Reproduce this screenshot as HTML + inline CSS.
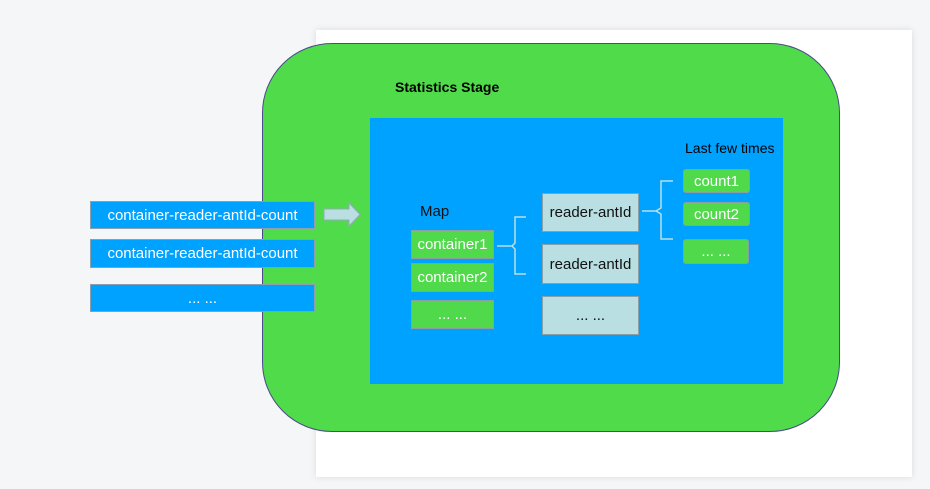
<!DOCTYPE html>
<html><head><style>
body{margin:0;width:930px;height:489px;background:#f5f6f8;position:relative;overflow:hidden;font-family:"Liberation Sans",sans-serif}
.a{position:absolute;box-sizing:border-box;display:flex;align-items:center;justify-content:center}
.lb{background:#00a2ff;border:1px solid #8aa0b0;color:#fff;font-size:15px}
.g{background:#50d94a;border:1px solid #8aa0a0;color:#fff;font-size:15px}
.r{background:#b9dfe3;border:1px solid #8aa0a8;color:#111;font-size:15px}
</style></head><body>
<div class="a" style="left:316px;top:30px;width:596px;height:447px;background:#fff;box-shadow:0 0 6px #d8dadd"></div>
<div class="a" style="left:262px;top:43px;width:578px;height:389px;background:#50db4a;border:1px solid #4a4a8a;border-radius:70px"></div>
<div class="a" style="left:395px;top:79px;font-weight:bold;font-size:14px;color:#000">Statistics Stage</div>
<div class="a" style="left:370px;top:118px;width:413px;height:266px;background:#00a2ff"></div>
<div class="a" style="left:685px;top:140px;font-size:14px;color:#000">Last few times</div>
<div class="a lb" style="left:90px;top:201px;width:225px;height:28px">container-reader-antId-count</div>
<div class="a lb" style="left:90px;top:239px;width:225px;height:29px">container-reader-antId-count</div>
<div class="a lb" style="left:90px;top:284px;width:225px;height:28px">... ...</div>
<svg style="position:absolute;left:0;top:0" width="930" height="489">
<polygon points="324,209 349,209 349,203 360,214.5 349,226 349,220 324,220" fill="#b9dfe3" stroke="#9ab" stroke-width="1"/>
<path d="M497,246 H512 M526,217 H515 V243 L512,246 L515,249 V274 H526" stroke="#b9dfe3" fill="none" stroke-width="1.5"/>
<path d="M642,211 H656 M673,181 H661 V208 L656,211 L661,214 V239 H673" stroke="#b9dfe3" fill="none" stroke-width="1.5"/>
</svg>
<div class="a" style="left:420px;top:203px;font-size:15px;color:#111">Map</div>
<div class="a g" style="left:411px;top:230px;width:83px;height:29px">container1</div>
<div class="a g" style="left:411px;top:263px;width:83px;height:29px">container2</div>
<div class="a g" style="left:411px;top:300px;width:83px;height:29px">... ...</div>
<div class="a r" style="left:542px;top:193px;width:97px;height:39px">reader-antId</div>
<div class="a r" style="left:542px;top:244px;width:97px;height:40px">reader-antId</div>
<div class="a r" style="left:542px;top:296px;width:97px;height:39px">... ...</div>
<div class="a g" style="left:683px;top:169px;width:67px;height:24px;border-radius:3px">count1</div>
<div class="a g" style="left:683px;top:202px;width:67px;height:24px;border-radius:3px">count2</div>
<div class="a g" style="left:683px;top:239px;width:66px;height:25px;border-radius:3px">... ...</div>
</body></html>
